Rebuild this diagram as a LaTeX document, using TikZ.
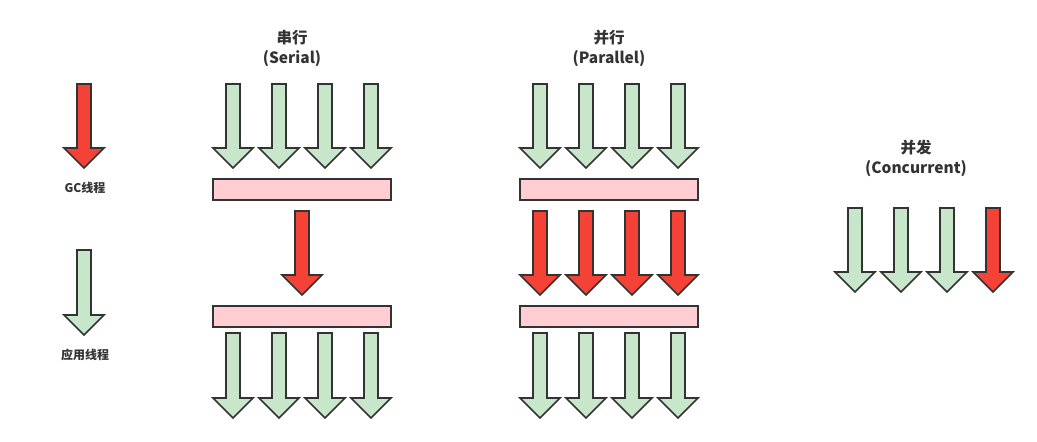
\documentclass[tikz,border=0pt]{standalone}
\usepackage{fontspec}
\setmainfont{Noto Sans CJK SC}
\usepackage{tikz}
\usetikzlibrary{positioning}
\usepackage{xcolor}
\definecolor{gcred}{HTML}{F44336}
\definecolor{appgreen}{HTML}{C8E6C9}
\definecolor{heappink}{HTML}{FFCDD2}
\definecolor{edge}{HTML}{333333}

% block arrow: style, x, top, tip
\newcommand{\threadarrow}[4]{%
    \draw[#1] (#2-7,#3) -- (#2+7,#3) -- (#2+7,#4-20) -- (#2+20,#4-20)
        -- (#2,#4) -- (#2-20,#4-20) -- (#2-7,#4-20) -- cycle;}

\begin{document}
\begin{tikzpicture}[x=1pt,y=-1pt,
    thread/.style={draw=edge,line width=1.6pt,line join=miter},
    gc/.style={thread,fill=gcred},
    app/.style={thread,fill=appgreen},
    heap/.style={draw=edge,line width=1.6pt,fill=heappink,
        minimum width=178,minimum height=21,inner sep=0pt},
    title/.style={font=\bfseries\fontsize{15.5}{20}\selectfont,align=center,text=edge},
    legend/.style={font=\bfseries\fontsize{12}{14}\selectfont,text=edge}]
    \useasboundingbox (0,0) rectangle (1037,442);

    % 图例
    \threadarrow{gc}{84}{84}{168}
    \node[legend] (gclabel) at (85,188) {GC线程};
    \threadarrow{app}{84}{250}{335}
    \node[legend] (applabel) at (85,355) {应用线程};

    % 串行
    \node[title] (serialtitle) at (292,48) {串行\\(Serial)};
    \foreach \x in {233,279,325,371} {
        \threadarrow{app}{\x}{84}{168}
        \threadarrow{app}{\x}{333}{418}
    }
    \node[heap] (serialtop) at (302,189.5) {};
    \threadarrow{gc}{302}{211}{295}
    \node[heap] (serialbottom) at (302,316.5) {};

    % 并行
    \node[title] (paralleltitle) at (609,48) {并行\\(Parallel)};
    \foreach \x in {540,586,632,678} {
        \threadarrow{app}{\x}{84}{168}
        \threadarrow{gc}{\x}{211}{295}
        \threadarrow{app}{\x}{333}{418}
    }
    \node[heap] (paralleltop) at (609,189.5) {};
    \node[heap] (parallelbottom) at (609,316.5) {};

    % 并发
    \node[title] (concurrenttitle) at (916,158) {并发\\(Concurrent)};
    \foreach \x in {855,901,947} {
        \threadarrow{app}{\x}{208}{292}
    }
    \threadarrow{gc}{993}{208}{292}
\end{tikzpicture}
\end{document}
